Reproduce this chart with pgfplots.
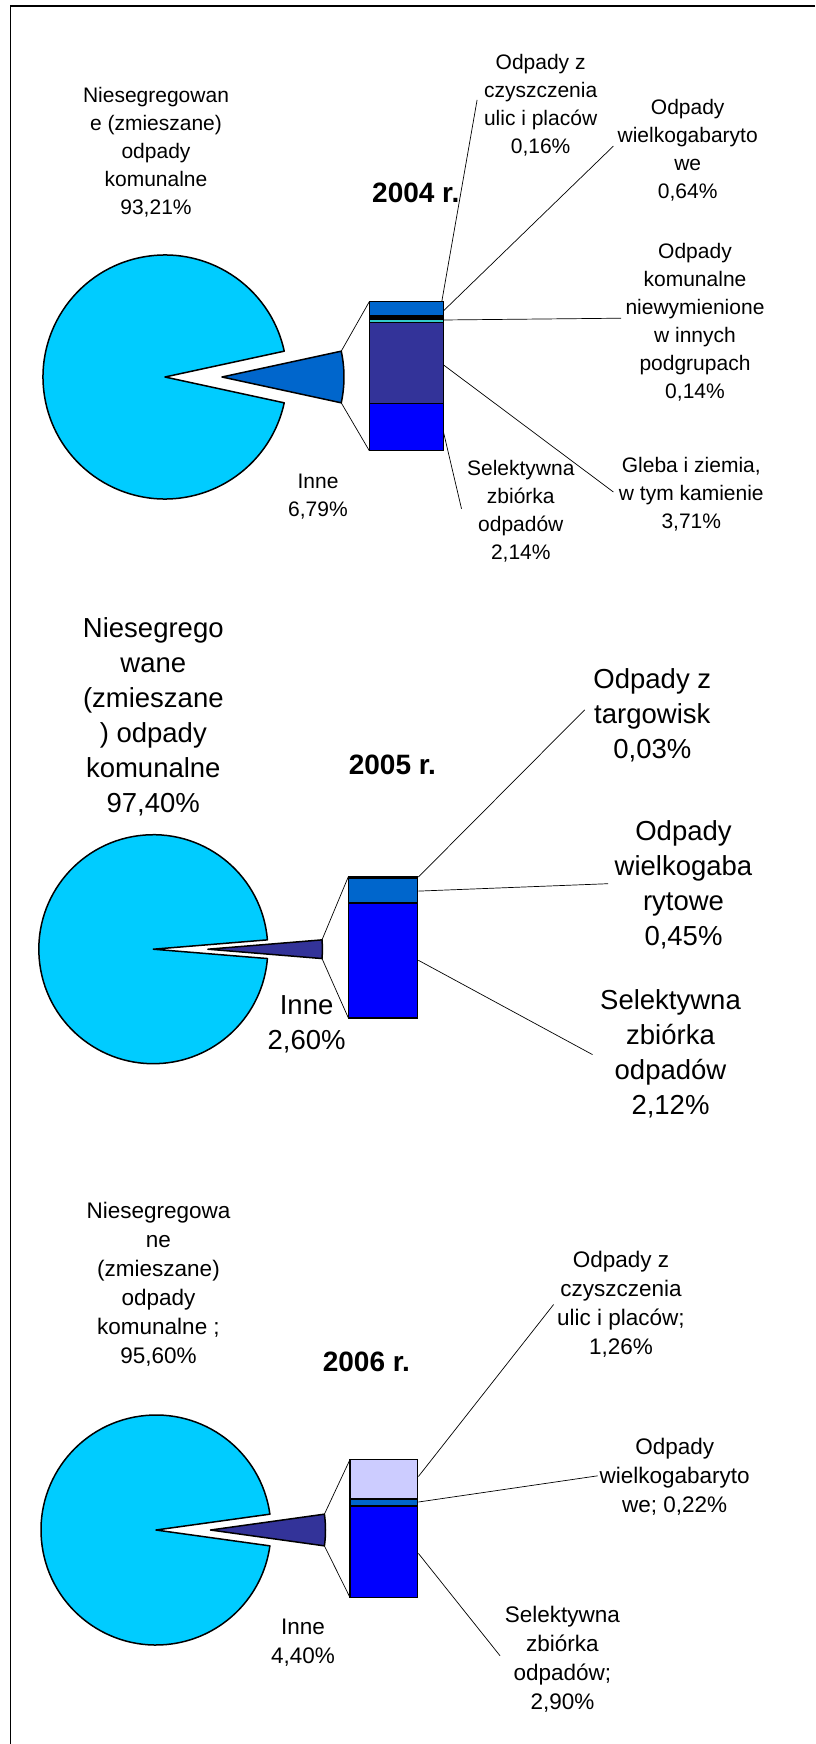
\documentclass[border=0pt]{standalone}
\usepackage{pgfplots}
\pgfplotsset{compat=1.18}
\usepackage{fontspec}
\setmainfont{Liberation Sans}
\definecolor{pieCyan}{HTML}{00CCFF}
\definecolor{midBlue}{HTML}{0066CC}
\definecolor{navyB}{HTML}{333399}
\definecolor{pureBlue}{HTML}{0000FF}
\definecolor{tealC}{HTML}{33CCCC}
\definecolor{lav}{HTML}{CCCCFF}
\begin{document}
\begin{tikzpicture}
\useasboundingbox (0,0) rectangle (815pt,-1744pt);
\fill[white] (0,0) rectangle (815pt,-1744pt);
% frame
\draw[line width=1.8pt] (10.5pt,-1744pt) -- (10.5pt,-5.7pt) -- (815pt,-5.7pt);
% half angles of the "Inne" slices (values in %)
\pgfmathsetmacro{\haA}{3.6*6.79/2}
\pgfmathsetmacro{\haB}{3.6*2.60/2}
\pgfmathsetmacro{\haC}{3.6*4.40/2}
\tikzset{lab1/.style={font={\fontsize{21}{28}\selectfont}, align=center, inner sep=0pt},
         lab2/.style={font={\fontsize{27.5}{35}\selectfont}, align=center, inner sep=0pt},
         lab3/.style={font={\fontsize{22.5}{29}\selectfont}, align=center, inner sep=0pt},
         ttl/.style={font={\fontsize{28}{34}\selectfont\bfseries}, inner sep=0pt},
         lead/.style={line width=0.7pt}}
\begin{axis}[at={(0pt,0pt)}, anchor=north west, x=1pt, y=1pt, xmin=0, xmax=815, ymin=-1744, ymax=0, hide axis, clip=false]
% ---------- 2004 ----------
\draw[fill=pieCyan, line width=1.5pt, line join=round] (axis cs:165,-377) -- ++(\haA:122pt) arc[start angle=\haA, end angle={360-\haA}, radius=122pt] -- cycle;
\draw[fill=midBlue, line width=1.5pt, line join=round] (axis cs:222,-377) -- ++(-\haA:122pt) arc[start angle=-\haA, end angle=\haA, radius=122pt] -- cycle;
\draw[lead] (axis cs:222,-377) ++(\haA:122pt) -- (axis cs:369.3,-301.7);
\draw[lead] (axis cs:222,-377) ++(-\haA:122pt) -- (axis cs:369.3,-450.7);
\draw[lead] (axis cs:441.8,-301.5) -- (axis cs:477.1,-99.9);
\draw[lead] (axis cs:442.8,-311.5) -- (axis cs:613.4,-146.1);
\draw[lead] (axis cs:442.8,-320) -- (axis cs:621.1,-318.2);
\draw[lead] (axis cs:442.8,-364.4) -- (axis cs:613.4,-492);
\draw[lead] (axis cs:442.8,-429.2) -- (axis cs:461.5,-508.7);
\node[lab1] at (axis cs:156,-152.5) {Niesegregowan\\e (zmieszane)\\odpady\\komunalne\\93,21\%};
\node[ttl] at (axis cs:415.8,-192.4) {2004 r.};
\node[lab1] at (axis cs:540.6,-105) {Odpady z\\czyszczenia\\ulic i placów\\0,16\%};
\node[lab1] at (axis cs:687.7,-149.8) {Odpady\\wielkogabaryto\\we\\0,64\%};
\node[lab1] at (axis cs:695,-322.3) {Odpady\\komunalne\\niewymienione\\w innych\\podgrupach\\0,14\%};
\node[lab1] at (axis cs:691.3,-494.6) {Gleba i ziemia,\\w tym kamienie\\3,71\%};
\node[lab1] at (axis cs:520.8,-511.5) {Selektywna\\zbiórka\\odpadów\\2,14\%};
\node[lab1] at (axis cs:318,-497) {Inne\\6,79\%};
% ---------- 2005 ----------
\draw[fill=pieCyan, line width=1.5pt, line join=round] (axis cs:153.3,-949.2) -- ++(\haB:114.5pt) arc[start angle=\haB, end angle={360-\haB}, radius=114.5pt] -- cycle;
\draw[fill=navyB, line width=1.5pt, line join=round] (axis cs:207.9,-949.2) -- ++(-\haB:114.5pt) arc[start angle=-\haB, end angle=\haB, radius=114.5pt] -- cycle;
\draw[lead] (axis cs:207.9,-949.2) ++(\haB:114.5pt) -- (axis cs:348.3,-876.8);
\draw[lead] (axis cs:207.9,-949.2) ++(-\haB:114.5pt) -- (axis cs:348.3,-1017.8);
\draw[lead] (axis cs:418.4,-877) -- (axis cs:584.7,-709.8);
\draw[lead] (axis cs:418.4,-891.1) -- (axis cs:608,-883.7);
\draw[lead] (axis cs:418.4,-960.3) -- (axis cs:592.5,-1054.6);
\node[lab2] at (axis cs:153.3,-717) {Niesegrego\\wane\\(zmieszane\\) odpady\\komunalne\\97,40\%};
\node[ttl] at (axis cs:392.4,-765.3) {2005 r.};
\node[lab2] at (axis cs:652.3,-715.2) {Odpady z\\targowisk\\0,03\%};
\node[lab2] at (axis cs:683.5,-884.5) {Odpady\\wielkogaba\\rytowe\\0,45\%};
\node[lab2] at (axis cs:670.5,-1053.7) {Selektywna\\zbiórka\\odpadów\\2,12\%};
\node[lab2] at (axis cs:306.6,-1024.1) {Inne\\2,60\%};
% ---------- 2006 ----------
\draw[fill=pieCyan, line width=1.5pt, line join=round] (axis cs:156,-1530) -- ++(\haC:115pt) arc[start angle=\haC, end angle={360-\haC}, radius=115pt] -- cycle;
\draw[fill=navyB, line width=1.5pt, line join=round] (axis cs:210.5,-1530) -- ++(-\haC:115pt) arc[start angle=-\haC, end angle=\haC, radius=115pt] -- cycle;
\draw[lead] (axis cs:210.5,-1530) ++(\haC:115pt) -- (axis cs:350,-1459.5);
\draw[lead] (axis cs:210.5,-1530) ++(-\haC:115pt) -- (axis cs:350,-1597.5);
\draw[lead] (axis cs:418.4,-1476.5) -- (axis cs:553.6,-1304.5);
\draw[lead] (axis cs:418.4,-1502) -- (axis cs:597.7,-1475.8);
\draw[lead] (axis cs:418.4,-1553.4) -- (axis cs:500,-1655.7);
\node[lab3] at (axis cs:158.5,-1284.5) {Niesegregowa\\ne\\(zmieszane)\\odpady\\komunalne ;\\95,60\%};
\node[ttl] at (axis cs:366.4,-1362) {2006 r.};
\node[lab3] at (axis cs:621,-1303.8) {Odpady z\\czyszczenia\\ulic i placów;\\1,26\%};
\node[lab3] at (axis cs:674.7,-1476.7) {Odpady\\wielkogabaryto\\we; 0,22\%};
\node[lab3] at (axis cs:562.4,-1658.9) {Selektywna\\zbiórka\\odpadów;\\2,90\%};
\node[lab3] at (axis cs:303,-1642.3) {Inne\\4,40\%};
\end{axis}
% ---------- bars of the "Inne" breakdown ----------
\pgfplotsset{barax/.style={anchor=south west, scale only axis, hide axis, xmin=-0.5, xmax=0.5, ymin=0, ybar stacked, clip=false},
  seg/.style={draw=black, line width=1.5pt}}
\begin{axis}[barax, at={(369.3pt,-450.7pt)}, width=74pt, height=149pt, ymax=6.79, bar width=74pt]
\addplot[seg, fill=pureBlue] coordinates {(0,2.14)};
\addplot[seg, fill=navyB] coordinates {(0,3.71)};
\addplot[seg, fill=tealC] coordinates {(0,0.14)};
\addplot[seg, fill=black] coordinates {(0,0.16)};
\addplot[seg, fill=midBlue] coordinates {(0,0.64)};
\end{axis}
\begin{axis}[barax, at={(348.3pt,-1017.8pt)}, width=69.1pt, height=141pt, ymax=2.60, bar width=69.1pt]
\addplot[seg, fill=pureBlue] coordinates {(0,2.12)};
\addplot[seg, fill=midBlue] coordinates {(0,0.45)};
\addplot[seg, fill=midBlue] coordinates {(0,0.03)};
\end{axis}
\begin{axis}[barax, at={(350pt,-1597.5pt)}, width=67.7pt, height=138pt, ymax=4.38, bar width=67.7pt]
\addplot[seg, fill=pureBlue] coordinates {(0,2.90)};
\addplot[seg, fill=midBlue] coordinates {(0,0.22)};
\addplot[seg, fill=lav] coordinates {(0,1.26)};
\end{axis}
\end{tikzpicture}
\end{document}
